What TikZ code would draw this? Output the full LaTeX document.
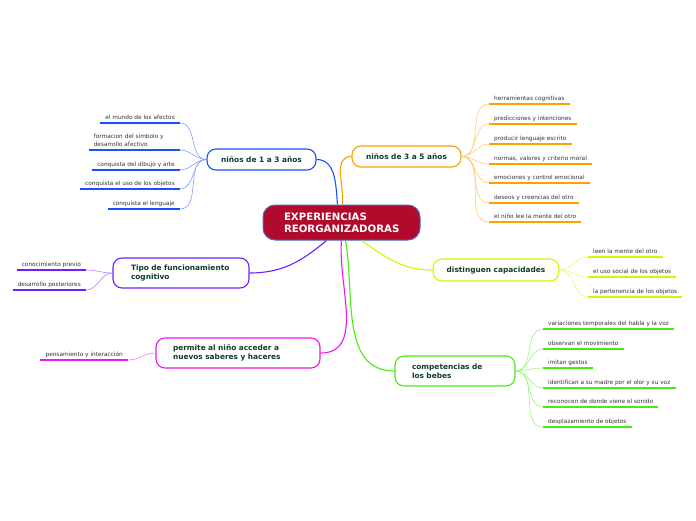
\documentclass[tikz,border=0pt]{standalone}
\usepackage{fontspec}
\setmainfont{DejaVu Sans}
\usetikzlibrary{positioning}
\definecolor{rootred}{RGB}{176,10,44}
\definecolor{rootedge}{RGB}{70,110,190}
\definecolor{topictext}{RGB}{15,60,45}
\definecolor{leaftext}{RGB}{50,50,50}
\definecolor{cblue}{RGB}{25,80,250}
\definecolor{corange}{RGB}{255,160,0}
\definecolor{cyellow}{RGB}{205,250,0}
\definecolor{cgreen}{RGB}{70,235,20}
\definecolor{cmagenta}{RGB}{240,20,240}
\definecolor{cpurple}{RGB}{110,30,255}

\begin{document}
\begin{tikzpicture}[x=1pt,y=-1pt,
        root/.style={draw=rootedge,line width=1pt,fill=rootred,text=white,rounded corners=12pt,font=\fontsize{10.2}{12}\selectfont\bfseries,align=left,inner xsep=21pt,text width=115pt,minimum height=35pt},
        topic/.style={draw=#1,line width=1.1pt,fill=white,rounded corners=9pt,text=topictext,font=\fontsize{7.4}{9.5}\selectfont\bfseries,minimum height=21pt},
        twolines/.style={minimum height=30pt,align=left,inner xsep=17pt},
        leaf/.style={inner xsep=5pt,inner ysep=1.5pt,text=leaftext,font=\fontsize{5.8}{7.5}\selectfont,execute at begin node=\strut,
            append after command={(\tikzlastnode.south west) edge[draw=#1,line width=1.6pt] (\tikzlastnode.south east)}},
        branch/.style={draw=#1,line width=1.1pt},
        twig/.style={draw=#1!55,line width=0.6pt}
    ]
        \useasboundingbox (0,0) rectangle (696,520);

        \node[root] (root) at (341.5,222.5) {EXPERIENCIAS\\REORGANIZADORAS};

        \node[topic=cblue,minimum width=109pt] (t13) at (261.5,159.5) {niños de 1 a 3 años};
        \node[topic=corange,minimum width=109pt] (t35) at (406.5,156.5) {niños de 3 a 5 años};
        \node[topic=cyellow,minimum width=126pt,minimum height=22pt] (tcap) at (496,270) {distinguen capacidades};
        \node[topic=cgreen,twolines,text width=86pt] (tbeb) at (455,371) {competencias de\\los bebes};
        \node[topic=cmagenta,twolines,text width=130pt] (tper) at (238,353) {permite al niño acceder a\\nuevos saberes y haceres};
        \node[topic=cpurple,twolines,inner xsep=18pt,text width=100pt] (ttipo) at (181,273) {Tipo de funcionamiento\\cognitivo};

        \draw[branch=cblue] ([xshift=-4pt]root.north) to[out=95,in=0] (t13.east);
        \draw[branch=corange] ([xshift=1pt]root.north) to[out=85,in=180] (t35.west);
        \draw[branch=cyellow] ([xshift=20pt]root.south) to[out=-35,in=180] (tcap.west);
        \draw[branch=cgreen] ([xshift=4pt]root.south) to[out=-80,in=180] (tbeb.west);
        \draw[branch=cmagenta] ([xshift=0pt]root.south) to[out=-95,in=0] (tper.east);
        \draw[branch=cpurple] ([xshift=-15pt]root.south) to[out=-140,in=0] (ttipo.east);

        % niños de 1 a 3 años
        \node[leaf=cblue,anchor=south east] (a1) at (180,123) {el mundo de los afectos};
        \node[leaf=cblue,anchor=south east,align=left,text width=81pt] (a2) at (180,150) {formacion del simbolo y\\desarrollo afectivo\strut};
        \node[leaf=cblue,anchor=south east] (a3) at (180,170) {conquista del dibujo y arte};
        \node[leaf=cblue,anchor=south east] (a4) at (180,189) {conquista el uso de los objetos};
        \node[leaf=cblue,anchor=south east] (a5) at (180,209) {conquista el lenguaje};
        \draw[twig=cblue] (t13.west) to[out=180,in=0] (a1.south east);
        \draw[twig=cblue] (t13.west) to[out=180,in=0] (a2.south east);
        \draw[twig=cblue] (t13.west) to[out=180,in=0] (a3.south east);
        \draw[twig=cblue] (t13.west) to[out=180,in=0] (a4.south east);
        \draw[twig=cblue] (t13.west) to[out=180,in=0] (a5.south east);

        % niños de 3 a 5 años
        \node[leaf=corange,anchor=south west] (b1) at (489,104) {herramientas cognitivas};
        \node[leaf=corange,anchor=south west] (b2) at (489,124) {predicciones y intenciones};
        \node[leaf=corange,anchor=south west] (b3) at (489,144) {producir lenguaje escrito};
        \node[leaf=corange,anchor=south west] (b4) at (489,164) {normas, valores y criterio moral};
        \node[leaf=corange,anchor=south west] (b5) at (489,183) {emociones y control emocional};
        \node[leaf=corange,anchor=south west] (b6) at (489,203) {deseos y creencias del otro};
        \node[leaf=corange,anchor=south west] (b7) at (489,222) {el niño lee la mente del otro};
        \draw[twig=corange] (t35.east) to[out=0,in=180] (b1.south west);
        \draw[twig=corange] (t35.east) to[out=0,in=180] (b2.south west);
        \draw[twig=corange] (t35.east) to[out=0,in=180] (b3.south west);
        \draw[twig=corange] (t35.east) to[out=0,in=180] (b4.south west);
        \draw[twig=corange] (t35.east) to[out=0,in=180] (b5.south west);
        \draw[twig=corange] (t35.east) to[out=0,in=180] (b6.south west);
        \draw[twig=corange] (t35.east) to[out=0,in=180] (b7.south west);

        % distinguen capacidades
        \node[leaf=cyellow,anchor=south west] (c1) at (588,257) {leen la mente del otro};
        \node[leaf=cyellow,anchor=south west] (c2) at (588,277) {el uso social de los objetos};
        \node[leaf=cyellow,anchor=south west] (c3) at (588,297) {la pertenencia de los objetos};
        \draw[twig=cyellow] (tcap.east) to[out=0,in=180] (c1.south west);
        \draw[twig=cyellow] (tcap.east) to[out=0,in=180] (c2.south west);
        \draw[twig=cyellow] (tcap.east) to[out=0,in=180] (c3.south west);

        % competencias de los bebes
        \node[leaf=cgreen,anchor=south west] (d1) at (543,329) {variaciones temporales del habla y la voz};
        \node[leaf=cgreen,anchor=south west] (d2) at (543,349) {observan el movimiento};
        \node[leaf=cgreen,anchor=south west] (d3) at (543,368) {imitan gestos};
        \node[leaf=cgreen,anchor=south west] (d4) at (543,388) {identifican a su madre por el olor y su voz};
        \node[leaf=cgreen,anchor=south west] (d5) at (543,407) {reconocen de donde viene el sonido};
        \node[leaf=cgreen,anchor=south west] (d6) at (543,427) {desplazamiento de objetos};
        \draw[twig=cgreen] (tbeb.east) to[out=0,in=180] (d1.south west);
        \draw[twig=cgreen] (tbeb.east) to[out=0,in=180] (d2.south west);
        \draw[twig=cgreen] (tbeb.east) to[out=0,in=180] (d3.south west);
        \draw[twig=cgreen] (tbeb.east) to[out=0,in=180] (d4.south west);
        \draw[twig=cgreen] (tbeb.east) to[out=0,in=180] (d5.south west);
        \draw[twig=cgreen] (tbeb.east) to[out=0,in=180] (d6.south west);

        % permite al niño acceder
        \node[leaf=cmagenta,anchor=south east] (e1) at (128,360) {pensamiento y interacción};
        \draw[twig=cmagenta] (tper.west) to[out=180,in=0] (e1.south east);

        % tipo de funcionamiento
        \node[leaf=cpurple,anchor=south east] (f1) at (86,270) {conocimiento previo};
        \node[leaf=cpurple,anchor=south east] (f2) at (86,290) {desarrollo posteriores};
        \draw[twig=cpurple] (ttipo.west) to[out=180,in=0] (f1.south east);
        \draw[twig=cpurple] (ttipo.west) to[out=180,in=0] (f2.south east);
    \end{tikzpicture}
\end{document}
